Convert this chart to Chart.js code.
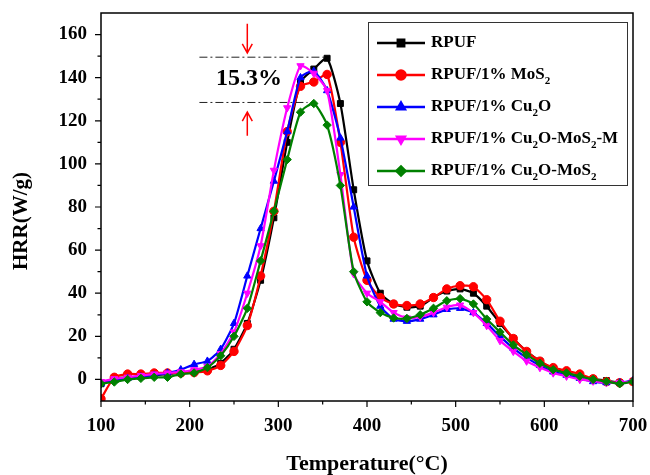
<!DOCTYPE html>
<html>
<head>
<meta charset="utf-8">
<script src="https://cdn.jsdelivr.net/npm/chart.js@4"></script>
<style>
  html, body { margin: 0; padding: 0; background: #fff; }
  #wrap { width: 650px; height: 475px; }
</style>
</head>
<body>
<div id="wrap"><canvas id="myChart" width="650" height="475"></canvas></div>
<script>
// temperatures, every 15 °C
const temps = [100, 115, 130, 145, 160, 175, 190, 205, 220, 235, 250, 265, 280, 295, 310, 325, 340, 355, 370, 385,
  400, 415, 430, 445, 460, 475, 490, 505, 520, 535, 550, 565, 580, 595, 610, 625, 640, 655, 670, 685, 700];

const rpuf = [-2, 0.5, 1, 1.5, 2, 2.5, 3, 3.5, 4.5, 7.5, 14, 26, 46, 75, 110, 138, 144, 149, 128, 88,
  55, 40, 35, 33.5, 34, 38, 41, 42, 40, 34, 26, 19, 13, 8.5, 5, 3, 1.5, 0.3, -0.5, -1.5, -1];
const mos2 = [-9, 1, 2.5, 2.5, 3, 3, 3, 3.2, 4, 6.5, 13, 25, 48, 78, 115, 136, 138, 141.5, 110, 66,
  46, 38, 35, 34.3, 35, 38, 42, 43.5, 43, 37, 27, 19, 13, 8.5, 5.5, 4, 2.5, 0.3, -1, -1.5, -1];
const cu2o = [-2, -0.5, 0.5, 1.2, 2, 3, 4.5, 7, 8.5, 14, 26, 48, 70, 92, 115, 140, 143, 134, 112, 80,
  48, 34, 28, 27, 28, 30, 32.5, 33, 31, 26, 20, 14.5, 10, 6.5, 3.5, 2, 0.5, -1, -1.5, -1.5, -0.5];
const cu2oMos2M = [-1, 0.3, 1, 1.8, 2.5, 3, 3.5, 4.5, 6, 12, 22, 40, 62, 97, 126, 145.5, 142, 134, 95, 49,
  40, 36, 31, 28.5, 29, 31, 33.5, 34.5, 31, 25, 18, 13, 8.5, 5.5, 3, 1.5, 0, -0.8, -1.5, -1.5, -1];
const cu2oMos2 = [-2, -1.2, 0, 0.5, 1, 1, 2.5, 3, 5.5, 11, 20, 33, 55, 78, 102, 124, 128, 118, 90, 50,
  36, 31, 28.5, 28.3, 30, 33, 36.5, 37.5, 35, 28, 22, 16, 11.5, 7.5, 4.5, 3, 1.5, 0, -1, -2, -1];

const xTicks = [100, 200, 300, 400, 500, 600, 700];
const yTicks = [0, 20, 40, 60, 80, 100, 120, 140, 160];

// legend entries: text pieces, odd pieces are subscripts
const legendParts = [
  ['RPUF'],
  ['RPUF/1% MoS', '2'],
  ['RPUF/1% Cu', '2', 'O'],
  ['RPUF/1% Cu', '2', 'O-MoS', '2', '-M'],
  ['RPUF/1% Cu', '2', 'O-MoS', '2']
];
const names = ['RPUF', 'RPUF/1% MoS2', 'RPUF/1% Cu2O', 'RPUF/1% Cu2O-MoS2-M', 'RPUF/1% Cu2O-MoS2'];
const colors = ['#000000', '#ff0000', '#0000ff', '#ff00ff', '#008000'];
const styles = ['rect', 'circle', 'triangle', 'triangle', 'rectRot'];
const rotations = [0, 0, 0, 180, 0];
const series = [rpuf, mos2, cu2o, cu2oMos2M, cu2oMos2];

const serif = '"Liberation Serif", "Times New Roman", serif';

function pts(vals) {
  return vals.map((v, i) => ({ x: temps[i], y: v }));
}

const extras = {
  id: 'extras',
  beforeDatasetsDraw(chart) {
    const ctx = chart.ctx;
    const x = chart.scales.x, y = chart.scales.y;
    // dash-dot lines marking the two peaks
    ctx.save();
    ctx.strokeStyle = '#222';
    ctx.lineWidth = 1;
    ctx.setLineDash([8, 3, 2, 3]);
    ctx.beginPath();
    ctx.moveTo(x.getPixelForValue(211), y.getPixelForValue(149.5));
    ctx.lineTo(x.getPixelForValue(358), y.getPixelForValue(149.5));
    ctx.moveTo(x.getPixelForValue(211), y.getPixelForValue(128.5));
    ctx.lineTo(x.getPixelForValue(333), y.getPixelForValue(128.5));
    ctx.stroke();
    ctx.restore();
  },
  afterDraw(chart) {
    const ctx = chart.ctx;
    const x = chart.scales.x, y = chart.scales.y;
    const a = chart.chartArea;
    ctx.save();
    // frame
    ctx.strokeStyle = '#000';
    ctx.lineWidth = 1.5;
    ctx.strokeRect(a.left, a.top, a.right - a.left, a.bottom - a.top);
    // ticks, long ones at labels
    ctx.lineWidth = 1.2;
    ctx.beginPath();
    y.ticks.forEach(t => {
      if (t.value <= -10 || t.value >= 170) return;
      const py = y.getPixelForValue(t.value);
      const len = t.value % 20 === 0 ? 6 : 3.5;
      ctx.moveTo(a.left - len, py);
      ctx.lineTo(a.left, py);
    });
    x.ticks.forEach(t => {
      const px = x.getPixelForValue(t.value);
      const len = t.value % 100 === 0 ? 6 : 3.5;
      ctx.moveTo(px, a.bottom);
      ctx.lineTo(px, a.bottom + len);
    });
    ctx.stroke();

    // y title
    ctx.fillStyle = '#000';
    ctx.font = 'bold 21px ' + serif;
    ctx.textAlign = 'center';
    ctx.textBaseline = 'middle';
    ctx.save();
    ctx.translate(22, 221);
    ctx.rotate(-Math.PI / 2);
    ctx.fillText('HRR(W/g)', 0, 0);
    ctx.restore();

    // red arrows
    const ax = x.getPixelForValue(265);
    function arrow(fromV, toV) {
      const y0 = y.getPixelForValue(fromV), y1 = y.getPixelForValue(toV);
      const dir = y1 > y0 ? 1 : -1;
      ctx.strokeStyle = '#ff0000';
      ctx.lineWidth = 1.5;
      ctx.beginPath();
      ctx.moveTo(ax, y0);
      ctx.lineTo(ax, y1);
      ctx.moveTo(ax - 5, y1 - dir * 9);
      ctx.lineTo(ax, y1);
      ctx.lineTo(ax + 5, y1 - dir * 9);
      ctx.stroke();
    }
    arrow(165, 151.5);
    arrow(113, 124);

    // 15.3% label
    ctx.fillStyle = '#000';
    ctx.font = 'bold 24px ' + serif;
    ctx.textAlign = 'center';
    ctx.fillText('15.3%', x.getPixelForValue(267), y.getPixelForValue(139.5));

    // legend
    const lx = 368, ly = 22, lw = 259, lh = 163;
    ctx.strokeStyle = '#333';
    ctx.lineWidth = 1;
    ctx.strokeRect(lx + 0.5, ly + 0.5, lw, lh);
    legendParts.forEach((parts, i) => {
      const cy = 43 + i * 32;
      ctx.strokeStyle = colors[i];
      ctx.lineWidth = 2.5;
      ctx.beginPath();
      ctx.moveTo(377, cy);
      ctx.lineTo(425, cy);
      ctx.stroke();
      ctx.fillStyle = colors[i];
      Chart.helpers.drawPoint(ctx, {
        pointStyle: styles[i], radius: 4.5, rotation: rotations[i], borderWidth: 1
      }, 401, cy);
      let tx = 431;
      ctx.fillStyle = '#000';
      ctx.textAlign = 'left';
      ctx.textBaseline = 'middle';
      parts.forEach((p, k) => {
        const sub = k % 2 === 1;
        ctx.font = sub ? 'bold 11px ' + serif : 'bold 17px ' + serif;
        ctx.fillText(p, tx, sub ? cy + 6 : cy);
        tx += ctx.measureText(p).width;
      });
    });
    ctx.restore();
  }
};

const ctx = document.getElementById('myChart').getContext('2d');
const myChart = new Chart(ctx, {
  type: 'line',
  data: {
    datasets: series.map((s, i) => ({
      label: names[i],
      data: pts(s),
      borderColor: colors[i],
      backgroundColor: colors[i],
      borderWidth: 2.2,
      pointStyle: styles[i],
      pointRotation: rotations[i],
      pointRadius: 4.2,
      pointBorderWidth: 1,
      tension: 0.2,
      fill: false,
      order: 5 - i
    }))
  },
  options: {
    responsive: false,
    animation: false,
    layout: { padding: { left: 0, right: 17, top: 13, bottom: 0 } },
    plugins: { legend: { display: false }, tooltip: { enabled: false } },
    scales: {
      x: {
        type: 'linear',
        min: 100,
        max: 700,
        afterFit: s => { s.height = 74; s.paddingLeft = 0; s.paddingRight = 0; },
        grid: { display: true, drawOnChartArea: false, drawTicks: true, tickLength: 6, tickColor: 'rgba(0,0,0,0)' },
        border: { display: false },
        ticks: {
          stepSize: 50,
          autoSkip: false,
          maxRotation: 0,
          padding: 8,
          color: '#000',
          font: { family: serif, size: 19, weight: 'bold' },
          callback: v => xTicks.includes(v) ? String(v) : ''
        },
        title: {
          display: true,
          text: 'Temperature(°C)',
          color: '#000',
          font: { family: serif, size: 22, weight: 'bold', lineHeight: 1 },
          padding: { top: 0, bottom: 0 }
        }
      },
      y: {
        min: -10,
        max: 170,
        afterFit: s => { s.width = 101; s.paddingTop = 0; s.paddingBottom = 0; },
        grid: { display: true, drawOnChartArea: false, drawTicks: true, tickLength: 6, tickColor: 'rgba(0,0,0,0)' },
        border: { display: false },
        ticks: {
          stepSize: 10,
          autoSkip: false,
          padding: 8,
          color: '#000',
          font: { family: serif, size: 19, weight: 'bold' },
          callback: v => yTicks.includes(v) ? String(v) : ''
        }
      }
    }
  },
  plugins: [extras]
});
</script>
</body>
</html>
